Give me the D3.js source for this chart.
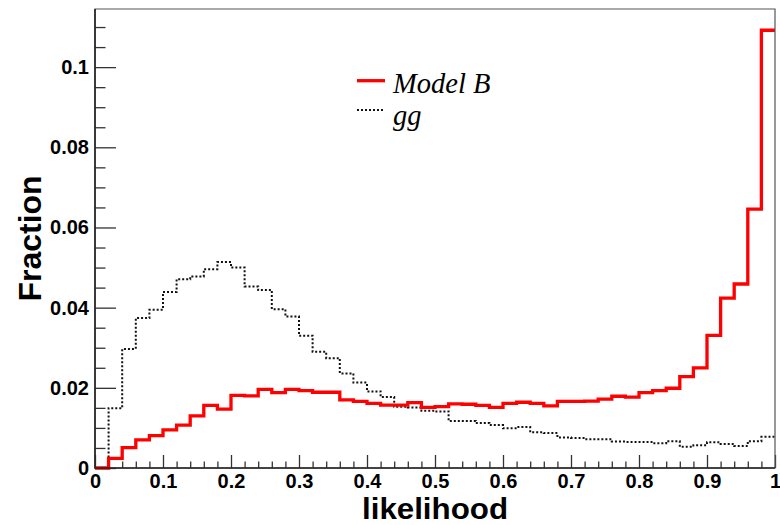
<!DOCTYPE html>
<html>
<head>
<meta charset="utf-8">
<script src="https://cdn.jsdelivr.net/npm/d3@7"></script>
<style>
  html, body { margin: 0; padding: 0; background: #fff; }
  svg { display: block; }
  .tick text { font-family: "Liberation Sans", Arial, sans-serif; font-weight: bold; font-size: 20px; fill: #000; }
  .tick line { stroke: #333; stroke-width: 1.3; }
  .domain { display: none; }
</style>
</head>
<body>
<svg id="chart" width="780" height="525"></svg>
<script>
// Bin layout: 50 bins of width 0.02 over the likelihood range [0, 1]
const binLow = 0, binWidth = 0.02;

// Normalised fraction per bin, Model B signal
const modelB = [
  0.0000, 0.0024, 0.0051, 0.0070, 0.0081, 0.0095, 0.0107, 0.0130, 0.0156, 0.0147,
  0.0181, 0.0180, 0.0196, 0.0188, 0.0196, 0.0193, 0.0189, 0.0189, 0.0170, 0.0166,
  0.0161, 0.0157, 0.0157, 0.0163, 0.0151, 0.0153, 0.0160, 0.0159, 0.0156, 0.0151,
  0.0161, 0.0164, 0.0161, 0.0155, 0.0166, 0.0166, 0.0167, 0.0172, 0.0179, 0.0177,
  0.0188, 0.0193, 0.0199, 0.0228, 0.0250, 0.0331, 0.0424, 0.0459, 0.0646, 0.1092
];

// Normalised fraction per bin, gg background
const ggBkg = [
  0.0000, 0.0149, 0.0297, 0.0374, 0.0395, 0.0439, 0.0471, 0.0478, 0.0496, 0.0514,
  0.0500, 0.0453, 0.0444, 0.0396, 0.0378, 0.0330, 0.0290, 0.0274, 0.0236, 0.0213,
  0.0191, 0.0177, 0.0153, 0.0151, 0.0143, 0.0141, 0.0117, 0.0117, 0.0112, 0.0107,
  0.0099, 0.0102, 0.0089, 0.0087, 0.0076, 0.0075, 0.0072, 0.0072, 0.0066, 0.0065,
  0.0065, 0.0062, 0.0067, 0.0053, 0.0057, 0.0064, 0.0060, 0.0055, 0.0067, 0.0078
];

// Axis ticks and labels
const xMajorTicks = [0, 0.1, 0.2, 0.3, 0.4, 0.5, 0.6, 0.7, 0.8, 0.9, 1];
const xTickLabels = ["0", "0.1", "0.2", "0.3", "0.4", "0.5", "0.6", "0.7", "0.8", "0.9", "1"];
const yMajorTicks = [0, 0.02, 0.04, 0.06, 0.08, 0.1];
const yTickLabels = ["0", "0.02", "0.04", "0.06", "0.08", "0.1"];
const yMax = 0.1145;

const seriesNames = ["Model B", "gg"];

const svg = d3.select("#chart");
const L = 95, R = 775, T = 9, B = 468;

const x = d3.scaleLinear().domain([0, 1]).range([L, R]);
const y = d3.scaleLinear().domain([0, yMax]).range([B, T]);

// Minor ticks
const xMinor = d3.range(0, 1.0001, 0.02).map(v => +v.toFixed(2)).filter(v => !xMajorTicks.some(m => Math.abs(m - v) < 1e-9));
const yMinor = d3.range(0, yMax, 0.005).map(v => +v.toFixed(3)).filter(v => !yMajorTicks.some(m => Math.abs(m - v) < 1e-9));

svg.append("g")
  .attr("transform", `translate(0,${B})`)
  .call(d3.axisBottom(x).tickValues(xMinor).tickFormat("").tickSizeInner(-6.5).tickSizeOuter(0));
svg.append("g")
  .attr("transform", `translate(0,${B})`)
  .call(d3.axisBottom(x).tickValues(xMajorTicks)
    .tickFormat((d, i) => xTickLabels[i]).tickSizeInner(-13).tickSizeOuter(0).tickPadding(6));

svg.append("g")
  .attr("transform", `translate(${L},0)`)
  .call(d3.axisLeft(y).tickValues(yMinor).tickFormat("").tickSizeInner(-10.5).tickSizeOuter(0));
svg.append("g")
  .attr("transform", `translate(${L},0)`)
  .call(d3.axisLeft(y).tickValues(yMajorTicks)
    .tickFormat((d, i) => yTickLabels[i]).tickSizeInner(-21).tickSizeOuter(0).tickPadding(6));

// Histogram outlines as step lines over bin edges
function stepPoints(vals) {
  const pts = vals.map((v, i) => [binLow + i * binWidth, v]);
  pts.push([binLow + vals.length * binWidth, vals[vals.length - 1]]);
  return pts;
}
const step = d3.line().x(d => x(d[0])).y(d => y(d[1])).curve(d3.curveStepAfter);

svg.append("path")
  .attr("d", step(stepPoints(ggBkg)))
  .attr("fill", "none")
  .attr("stroke", "#111")
  .attr("stroke-width", 2)
  .attr("stroke-dasharray", "2,2");

svg.append("path")
  .attr("d", step(stepPoints(modelB)))
  .attr("fill", "none")
  .attr("stroke", "#ff0000")
  .attr("stroke-width", 3.3);

// Frame
svg.append("path")
  .attr("d", `M${L},${B}H${R}V${T}H${L}Z`)
  .attr("fill", "none")
  .attr("stroke", "#555")
  .attr("stroke-width", 1.2);
svg.append("path")
  .attr("d", `M${L},${T}V${B}H${R}`)
  .attr("fill", "none")
  .attr("stroke", "#222")
  .attr("stroke-width", 1.6);

// Axis titles
svg.append("text")
  .attr("x", (L + R) / 2).attr("y", 518.8)
  .attr("text-anchor", "middle")
  .attr("textLength", 146)
  .attr("lengthAdjust", "spacingAndGlyphs")
  .style("font-family", "'Liberation Sans', Arial, sans-serif")
  .style("font-weight", "bold").style("font-size", "29px")
  .text("likelihood");

svg.append("text")
  .attr("transform", `translate(41,${(T + B) / 2}) rotate(-90)`)
  .attr("text-anchor", "middle")
  .style("font-family", "'Liberation Sans', Arial, sans-serif")
  .style("font-weight", "bold").style("font-size", "32px")
  .text("Fraction");

// Legend
const legend = svg.append("g");
const legendRows = [
  { name: seriesNames[0], color: "#ff0000", width: 3.3, dash: null, ly: 80.7, ty: 93 },
  { name: seriesNames[1], color: "#111", width: 2, dash: "2,2", ly: 110, ty: 124.5 }
];
legendRows.forEach(r => {
  legend.append("line")
    .attr("x1", 357).attr("x2", 385).attr("y1", r.ly).attr("y2", r.ly)
    .attr("stroke", r.color).attr("stroke-width", r.width)
    .attr("stroke-dasharray", r.dash);
  legend.append("text")
    .attr("x", 393).attr("y", r.ty)
    .style("font-family", "'Liberation Serif', 'Times New Roman', serif")
    .style("font-style", "italic").style("font-size", "28.5px")
    .text(r.name);
});
</script>
</body>
</html>
